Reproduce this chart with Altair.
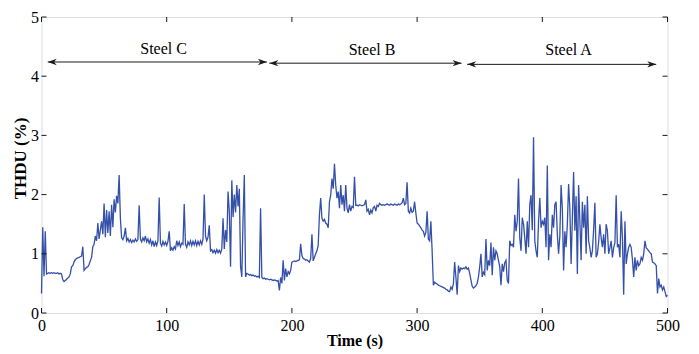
import altair as alt
import pandas as pd

THDU = [
    0.33, 1.45, 0.62, 1.38, 0.66, 0.67, 0.68, 0.67, 0.68, 0.67,
    0.68, 0.67, 0.67, 0.68, 0.66, 0.67, 0.66, 0.56, 0.53, 0.55,
    0.57, 0.59, 0.61, 0.66, 0.78, 0.80, 0.86, 0.90, 0.92, 0.93,
    0.94, 0.95, 0.96, 1.12, 0.72, 0.75, 0.77, 0.78, 0.82, 0.88,
    0.94, 1.12, 1.16, 1.30, 1.22, 1.52, 1.25, 1.40, 1.55, 1.33,
    1.85, 1.28, 1.74, 1.35, 1.72, 1.30, 1.83, 1.45, 1.92, 1.70,
    1.98, 1.85, 2.33, 1.60, 1.27, 1.24, 1.30, 1.44, 1.22, 1.26,
    1.20, 1.24, 1.19, 1.23, 1.20, 1.25, 1.21, 1.24, 1.82, 1.25,
    1.20, 1.27, 1.22, 1.30, 1.20, 1.25, 1.18, 1.24, 1.15, 1.22,
    1.12, 1.20, 1.14, 1.22, 1.95, 1.18, 1.13, 1.21, 1.15, 1.20,
    1.14, 1.21, 1.38, 1.05, 1.10, 1.06, 1.12, 1.08, 1.22, 1.14,
    1.20, 1.12, 1.18, 1.16, 1.84, 1.16, 1.11, 1.20, 1.15, 1.22,
    1.14, 1.21, 1.15, 1.22, 1.14, 1.21, 1.15, 1.22, 1.16, 1.25,
    2.00, 1.30, 1.22, 1.28, 1.48, 1.05, 1.07, 1.02, 1.06, 1.01,
    1.07, 1.02, 1.06, 1.01, 1.08, 1.60, 1.08, 1.40, 1.20, 2.05,
    1.72, 0.78, 2.24, 1.62, 2.00, 1.70, 2.16, 1.80, 2.10, 0.78,
    0.61, 1.60, 2.33, 0.61, 0.67, 0.66, 0.64, 0.65, 0.63, 0.64,
    0.62, 0.63, 0.61, 0.62, 0.60, 1.77, 0.60, 0.58, 0.59, 0.57,
    0.58, 0.57, 0.56, 0.57, 0.56, 0.55, 0.56, 0.55, 0.54, 0.55,
    0.38, 0.60, 0.50, 0.89, 0.55, 0.75, 0.61, 0.70, 0.66, 0.72,
    0.86, 0.87, 0.88, 0.87, 0.88, 0.89, 0.90, 1.17, 0.97, 0.92,
    0.91, 0.89, 0.90, 0.88, 0.86, 0.92, 1.33, 0.88, 0.94, 1.00,
    1.05, 1.14, 1.66, 1.94, 1.60, 1.55, 1.58, 1.52, 1.50, 1.44,
    1.88, 1.99, 2.27, 2.10, 2.52, 2.16, 1.94, 2.05, 1.77, 2.16,
    1.83, 1.99, 1.72, 2.16, 1.77, 1.69, 1.83, 1.72, 1.80, 1.78,
    2.30, 1.82, 1.82, 1.81, 1.83, 1.82, 1.81, 1.82, 1.83, 1.91,
    1.72, 1.75, 1.66, 1.74, 1.69, 1.78, 1.80, 1.72, 1.82, 1.80,
    1.85, 1.83, 1.82, 1.83, 1.82, 1.83, 1.84, 1.83, 1.82, 1.84,
    1.83, 1.82, 1.84, 1.83, 1.82, 1.84, 1.83, 1.84, 1.86, 1.94,
    1.83, 1.85, 2.21, 1.72, 1.69, 1.77, 1.70, 1.72, 1.88, 1.69,
    1.52, 1.50, 1.47, 1.44, 1.40, 1.38, 1.30, 1.36, 1.72, 1.25,
    1.22, 1.55, 1.05, 0.47, 0.52, 0.50, 0.49, 0.47, 0.46, 0.45,
    0.44, 0.43, 0.42, 0.40, 0.39, 0.37, 0.36, 0.44, 0.40, 0.50,
    0.86, 0.60, 0.31, 0.80, 0.70, 0.76, 0.74, 0.76, 0.75, 0.78,
    0.74, 0.76, 0.67, 0.56, 0.45, 0.42, 0.44, 0.46, 0.50, 0.61,
    0.78, 1.00, 0.61, 0.69, 0.65, 1.25, 0.72, 0.89, 0.80, 1.19,
    0.64, 1.11, 0.89, 1.05, 1.00, 0.89, 0.78, 0.47, 0.83, 0.70,
    0.85, 0.89, 0.55, 0.50, 1.22, 1.14, 1.16, 1.11, 1.66, 1.38,
    1.55, 2.27, 1.27, 1.05, 1.61, 1.50, 1.27, 1.00, 1.55, 1.11,
    1.83, 1.99, 1.40, 2.97, 1.22, 1.05, 0.94, 1.55, 1.94, 1.44,
    1.55, 1.50, 1.61, 1.11, 2.49, 0.89, 1.33, 1.11, 1.66, 1.44,
    1.83, 1.88, 1.33, 1.00, 1.30, 2.16, 1.77, 0.72, 1.38, 1.11,
    1.50, 2.18, 1.77, 0.83, 1.60, 2.38, 1.39, 1.97, 0.66, 2.16,
    1.55, 0.89, 1.88, 1.44, 1.83, 1.00, 1.97, 1.22, 1.10, 0.94,
    1.05, 1.40, 1.86, 0.94, 1.00, 1.20, 1.50, 1.27, 1.11, 1.33,
    1.00, 1.50, 1.39, 1.00, 1.10, 1.22, 0.94, 1.10, 1.19, 1.99,
    1.11, 1.16, 0.94, 1.72, 1.27, 0.31, 1.55, 0.83, 1.00, 1.11,
    1.16, 1.11, 0.90, 0.61, 0.94, 0.72, 0.89, 0.80, 0.83, 0.94,
    0.89, 1.00, 1.22, 1.10, 1.08, 1.05, 1.02, 1.00, 0.86, 0.85,
    0.83, 0.80, 0.33, 0.58, 0.44, 0.47, 0.39, 0.44, 0.36, 0.28,
    0.30,
]
TIME_S = list(range(len(THDU)))

X_TICKS = [0, 100, 200, 300, 400, 500]
Y_TICKS = [0, 1, 2, 3, 4, 5]

SEG_LABELS = ["Steel C", "Steel B", "Steel A"]
SEG_START = [5, 182, 340]
SEG_END = [180, 335.5, 491]
SEG_Y = [4.24, 4.22, 4.20]
LABEL_T = [97.5, 264, 421]
LABEL_Y = [4.46, 4.45, 4.44]

FONT = "Liberation Serif"
W, H = 626, 296
LINE_COLOR = "#3450a8"
INK = "#1a1a1a"

series = pd.DataFrame({"t": TIME_S, "v": THDU})
xticks = pd.DataFrame({"t": X_TICKS})
yticks = pd.DataFrame({"v": Y_TICKS})
segs = pd.DataFrame({"label": SEG_LABELS, "t0": SEG_START, "t1": SEG_END,
                     "ya": SEG_Y, "lt": LABEL_T, "ly": LABEL_Y})

xscale = alt.Scale(domain=[0, 500], nice=False, zero=False)
yscale = alt.Scale(domain=[0, 5], nice=False)

xaxis = alt.Axis(values=X_TICKS, title="Time (s)", grid=False, ticks=False, domain=False,
                 labelPadding=4, labelFont=FONT, labelFontSize=16, labelColor="#000",
                 titleFont=FONT, titleFontSize=16, titleFontWeight="bold", titleColor="#000",
                 titleX=W / 2, titleY=27, titleBaseline="middle", titleAlign="center",
                 format="d", labelFlush=False)
yaxis = alt.Axis(values=Y_TICKS, title="THDU (%)", grid=False, ticks=False, domain=False,
                 labelPadding=3, labelFont=FONT, labelFontSize=16, labelColor="#000",
                 titleFont=FONT, titleFontSize=17, titleFontWeight="bold", titleColor="#000",
                 titleX=-21, titleY=141, titleAngle=270, titleBaseline="middle",
                 titleAlign="center", format="d", labelFlush=False)

X = lambda f: alt.X(f, type="quantitative", scale=xscale, axis=xaxis)
Y = lambda f: alt.Y(f, type="quantitative", scale=yscale, axis=yaxis)

line = alt.Chart(series).mark_line(color=LINE_COLOR, strokeWidth=1.3).encode(x=X("t"), y=Y("v"))

tick_b = alt.Chart(xticks).mark_rule(color=INK, strokeWidth=1).encode(
    x=X("t"), y=alt.value(H), y2=alt.value(H - 5))
tick_t = alt.Chart(xticks).mark_rule(color=INK, strokeWidth=1).encode(
    x=X("t"), y=alt.value(0), y2=alt.value(5))
tick_l = alt.Chart(yticks).mark_rule(color=INK, strokeWidth=1).encode(
    y=Y("v"), x=alt.value(0), x2=alt.value(5))
tick_r = alt.Chart(yticks).mark_rule(color=INK, strokeWidth=1).encode(
    y=Y("v"), x=alt.value(W), x2=alt.value(W - 5))

shaft = alt.Chart(segs).mark_rule(color=INK, strokeWidth=1).encode(
    x=X("t0"), x2="t1", y=Y("ya"))
LEFT_HEAD = "M0,0 L2,-0.7 L1.4,0 L2,0.7 Z"
RIGHT_HEAD = "M0,0 L-2,-0.7 L-1.4,0 L-2,0.7 Z"
head_l = alt.Chart(segs).mark_point(shape=LEFT_HEAD, filled=True, size=81, color=INK,
                                    opacity=1, strokeWidth=0).encode(x=X("t0"), y=Y("ya"))
head_r = alt.Chart(segs).mark_point(shape=RIGHT_HEAD, filled=True, size=81, color=INK,
                                    opacity=1, strokeWidth=0).encode(x=X("t1"), y=Y("ya"))
labels = alt.Chart(segs).mark_text(font=FONT, fontSize=16, color="#000", baseline="middle",
                                   align="center").encode(x=X("lt"), y=Y("ly"), text="label")

chart = alt.layer(line, tick_b, tick_t, tick_l, tick_r, shaft, head_l, head_r, labels).properties(
    width=W, height=H,
    padding={"left": 33.5, "top": 9, "right": 20, "bottom": 36},
    autosize=alt.AutoSizeParams(type="none"),
).configure_view(stroke=INK, strokeWidth=1.3).configure(background="white")

chart.save("out.html", embed_options={"renderer": "svg", "actions": False})
